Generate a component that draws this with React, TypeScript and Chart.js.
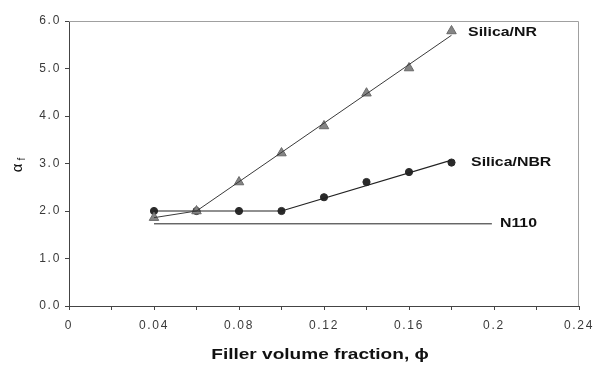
import React, { useEffect, useRef } from "react";
import { Chart, registerables } from "chart.js";

Chart.register(...registerables);

const xTicks = [0, 0.04, 0.08, 0.12, 0.16, 0.2, 0.24];
const phi = [0.04, 0.06, 0.08, 0.1, 0.12, 0.14, 0.16, 0.18];
const silicaNR = [1.86, 2.0, 2.61, 3.22, 3.79, 4.48, 5.01, 5.79];
const silicaNBR = [2.0, 2.0, 2.0, 2.0, 2.29, 2.61, 2.82, 3.02];
const nrFitX = [0.04, 0.06, 0.18];
const nrFitY = [1.86, 2.0, 5.7];
const nbrFitX = [0.04, 0.1, 0.18];
const nbrFitY = [2.0, 2.0, 3.07];
const n110X = [0.04, 0.199];
const n110Y = [1.73, 1.73];
const seriesLabels = [
  { text: "Silica/NR", x: 0.1878, y: 5.75 },
  { text: "Silica/NBR", x: 0.1892, y: 3.01 },
  { text: "N110", x: 0.2028, y: 1.726 },
];

const STRETCH = 1.27;
const pts = (xs: number[], ys: number[]) => xs.map((x, i) => ({ x, y: ys[i] }));

function stretchedText(c: any, text: string, x: number, y: number, align: string) {
  c.save();
  c.translate(x, y);
  c.scale(STRETCH, 1);
  c.textAlign = align;
  c.fillText(text, 0, 0);
  c.restore();
}

export default function App() {
  const ref = useRef<HTMLCanvasElement | null>(null);
  useEffect(() => {
    document.body.style.margin = "0";
    const ctx = ref.current!;
    const overlay = {
      id: "overlay",
      beforeDraw(chart: any) {
        chart.ctx.letterSpacing = "1.7px";
      },
      afterDraw(chart: any) {
        const c = chart.ctx;
        const a = chart.chartArea;
        const xs = chart.scales.x;
        const ys = chart.scales.y;
        c.save();
        c.letterSpacing = "0px";
        // frame top & right
        c.strokeStyle = "#a0a0a0";
        c.lineWidth = 1;
        c.beginPath();
        c.moveTo(a.left, a.top + 0.5);
        c.lineTo(a.right - 0.5, a.top + 0.5);
        c.lineTo(a.right - 0.5, a.bottom);
        c.stroke();
        // series labels
        c.fillStyle = "#111";
        c.font = "bold 12.5px 'Liberation Sans', Arial, sans-serif";
        c.textBaseline = "middle";
        seriesLabels.forEach((l) => {
          stretchedText(c, l.text, xs.getPixelForValue(l.x), ys.getPixelForValue(l.y), "left");
        });
        // x title
        c.font = "bold 15px 'Liberation Sans', Arial, sans-serif";
        stretchedText(c, "Filler volume fraction, \u03D5", 320, 355, "center");
        // y title
        c.translate(18, 165);
        c.rotate(-Math.PI / 2);
        c.font = "15px 'Liberation Sans', Arial, sans-serif";
        c.textAlign = "center";
        c.fillText("\u03B1", -3, 0);
        c.font = "10px 'Liberation Sans', Arial, sans-serif";
        c.fillText("f", 6, 4);
        c.restore();
      },
    };
    const tickFont = { size: 12, family: "'Liberation Sans', Arial, sans-serif" };
    const chart = new Chart(ctx, {
      type: "scatter",
      data: {
        datasets: [
          {
            data: pts(nrFitX, nrFitY),
            showLine: true,
            borderColor: "#3a3a3a",
            borderWidth: 1,
            pointRadius: 0,
          },
          {
            data: pts(nbrFitX, nbrFitY),
            showLine: true,
            borderColor: "#222",
            borderWidth: 1.2,
            pointRadius: 0,
          },
          {
            data: pts(n110X, n110Y),
            showLine: true,
            borderColor: "#222",
            borderWidth: 1,
            pointRadius: 0,
          },
          {
            data: pts(phi, silicaNR),
            showLine: false,
            pointStyle: "triangle",
            pointRadius: 5.5,
            backgroundColor: "#858585",
            borderColor: "#6a6a6a",
            borderWidth: 1,
          },
          {
            data: pts(phi, silicaNBR),
            showLine: false,
            pointStyle: "circle",
            pointRadius: 3.6,
            backgroundColor: "#2a2a2a",
            borderColor: "#2a2a2a",
            borderWidth: 1,
          },
        ],
      },
      options: {
        animation: false,
        responsive: false,
        maintainAspectRatio: false,
        layout: { padding: { top: 21, right: 15, left: 0, bottom: 0 } },
        plugins: { legend: { display: false }, tooltip: { enabled: false } },
        scales: {
          x: {
            type: "linear",
            min: 0,
            max: 0.24,
            afterFit(s: any) {
              s.height = 61;
              s.paddingLeft = 0;
              s.paddingRight = 0;
            },
            ticks: {
              stepSize: 0.02,
              autoSkip: false,
              maxRotation: 0,
              color: "#3a3a3a",
              font: tickFont,
              padding: 8,
              callback: (v: any) => {
                const n = Number(v);
                const hit = xTicks.find((t) => Math.abs(t - n) < 1e-9);
                return hit === undefined ? "" : String(hit);
              },
            },
            grid: {
              drawOnChartArea: false,
              drawTicks: true,
              tickLength: 4,
              color: "#444",
            },
            border: { color: "#444", width: 1 },
          },
          y: {
            min: 0,
            max: 6,
            afterFit(s: any) {
              s.width = 69;
              s.paddingTop = 0;
              s.paddingBottom = 0;
            },
            ticks: {
              stepSize: 1,
              color: "#3a3a3a",
              font: tickFont,
              padding: 4,
              callback: (v: any) => Number(v).toFixed(1),
            },
            grid: {
              drawOnChartArea: false,
              drawTicks: true,
              tickLength: 4,
              color: "#444",
            },
            border: { color: "#444", width: 1 },
          },
        },
      },
      plugins: [overlay],
    } as any);
    return () => chart.destroy();
  }, []);
  return (
    <div style={{ position: "absolute", left: 0, top: 0, width: 594, height: 367, background: "#fff" }}>
      <canvas ref={ref} width={594} height={367} style={{ width: 594, height: 367 }} />
    </div>
  );
}
